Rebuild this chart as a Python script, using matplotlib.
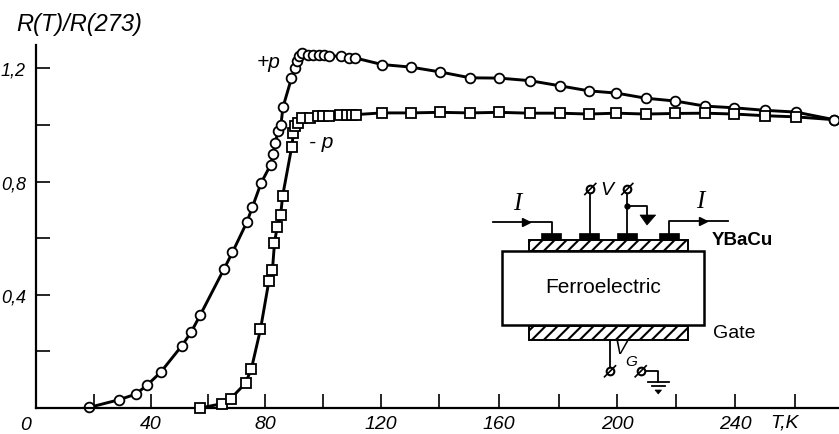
import matplotlib
matplotlib.use('Agg')
import matplotlib.pyplot as plt
from matplotlib.patches import Rectangle, Polygon

plt.rcParams['font.family'] = ['Liberation Sans', 'DejaVu Sans']

# +p curve (circles)
t_plus = [18.3, 28.5, 34.3, 38.2, 42.8, 50, 53.2, 56.4, 64.5, 67.4, 72.3, 74.2, 77.2, 80.5, 81.3, 82, 83, 84,
          84.7, 87.6, 88.8, 89.4, 90.3, 91.3, 93.2, 95.1, 97, 98.8, 100.6, 104.5, 107.3, 109.5, 118.6, 128.4,
          138.4, 148.8, 158.8, 169.2, 179.4, 189.4, 198.9, 208.9, 219, 229.2, 239.3, 249.8, 260.3, 273.4]
r_plus = [0.002, 0.029, 0.049, 0.081, 0.126, 0.219, 0.267, 0.329, 0.491, 0.55, 0.656, 0.709, 0.795, 0.86, 0.897,
          0.935, 0.978, 1.0, 1.063, 1.165, 1.201, 1.227, 1.245, 1.253, 1.247, 1.247, 1.247, 1.247, 1.245, 1.243,
          1.237, 1.237, 1.214, 1.205, 1.188, 1.167, 1.166, 1.157, 1.139, 1.121, 1.113, 1.095, 1.085, 1.067,
          1.061, 1.052, 1.046, 1.019]

# -p curve (squares)
t_minus = [56.4, 63.7, 66.8, 71.9, 73.9, 77, 79.9, 81.1, 81.8, 82.7, 83.9, 84.6, 87.7, 88.3, 88.8, 90, 91.1, 94,
           96.8, 98.5, 100.6, 104.2, 106.5, 108.3, 109.7, 118.6, 128.4, 138.4, 148.8, 158.8, 169.2, 179.4,
           189.4, 198.9, 208.9, 219, 229.2, 239.3, 249.8, 260.3]
r_minus = [0.0, 0.015, 0.033, 0.088, 0.139, 0.278, 0.45, 0.488, 0.583, 0.64, 0.682, 0.75, 0.923, 0.972, 0.998,
           1.007, 1.025, 1.024, 1.031, 1.031, 1.031, 1.036, 1.037, 1.037, 1.037, 1.043, 1.043, 1.045, 1.043,
           1.045, 1.042, 1.042, 1.039, 1.042, 1.039, 1.041, 1.042, 1.039, 1.033, 1.029]
t_end = [273.4]
r_end = [1.019]

x_ticks = [20, 39.5, 59, 78.6, 98.4, 118.3, 138.2, 158.7, 179.3, 199.1, 219.3, 239.5, 260]
x_labels = ['', '40', '', '80', '', '120', '', '160', '', '200', '', '240', '']
y_ticks = [0.2, 0.4, 0.6, 0.8, 1.0, 1.2]
y_labels = ['', '0,4', '', '0,8', '', '1,2']

W, H = 839, 435
fig = plt.figure(figsize=(W / 100, H / 100), dpi=100)

ax = fig.add_axes([35.6 / W, 26 / H, (W - 35.6) / W, 363 / H])
ax.set_xlim(0, 275.1)
ax.set_ylim(0, 1.283)
ax.spines['top'].set_visible(False)
ax.spines['right'].set_visible(False)
ax.spines['left'].set_linewidth(1.6)
ax.spines['bottom'].set_linewidth(1.6)
ax.set_xticks(x_ticks)
ax.set_xticklabels(x_labels, style='italic', fontsize=14)
ax.set_yticks(y_ticks)
ax.set_yticklabels(y_labels, style='italic', fontsize=13)
ax.tick_params(axis='both', direction='in', length=10, width=1.2)
ax.tick_params(axis='y', pad=7)
ax.tick_params(axis='x', pad=5)

mark = dict(mfc='white', mec='black', mew=1.3, clip_on=False)
ax.plot(t_plus, r_plus, color='black', lw=2.1, marker='o', ms=7, **mark)
ax.plot(t_minus + t_end, r_minus + r_end, color='black', lw=2.1, clip_on=False, zorder=3)
ax.plot(t_minus, r_minus, ls='none', marker='s', ms=6.6, zorder=3, **mark)
ax.plot(t_end, r_end, ls='none', marker='o', ms=7, zorder=4, **mark)

# everything else is placed in image pixels
ov = fig.add_axes([0, 0, 1, 1])
ov.set_xlim(0, W)
ov.set_ylim(H, 0)
ov.axis('off')
ov.patch.set_alpha(0)

ital = dict(style='italic', ha='center', va='center', color='black')
ov.text(79, 25, 'R(T)/R(273)', fontsize=17, **ital)
ov.text(26, 426, '0', fontsize=14, **ital)
ov.text(784, 423, 'T,K', fontsize=14, **ital)
ov.text(269, 62, '+p', fontsize=15, **ital)
ov.text(321, 143, '- p', fontsize=15, **ital)

# schematic
lw = 1.3
ov.add_patch(Rectangle((502.3, 251.7), 201.7, 74.3, fc='white', ec='black', lw=1.8))
for y0, h in [(240.7, 11), (326.7, 14)]:
    film = Rectangle((529, y0), 159, h, fc='white', ec='black', lw=1.4)
    ov.add_patch(film)
    for x0 in range(520, 700, 12):
        stripe, = ov.plot([x0, x0 + h], [y0 + h, y0], color='black', lw=1.5)
        stripe.set_clip_path(film)
for x0 in [541, 579, 617.3, 658.7]:
    ov.add_patch(Rectangle((x0, 234.3), 20, 6.4, fc='black', ec='black', lw=0.5))

ov.plot([493.3, 551.7, 551.7], [223.3, 223.3, 234.3], color='black', lw=lw)
ov.plot([669, 669, 728.3], [234.3, 222, 222], color='black', lw=lw)
ov.plot([526], [223.3], marker='>', ms=6, color='black')
ov.plot([702.7], [222], marker='>', ms=6, color='black')
ov.plot([590.3, 590.3], [234.3, 190], color='black', lw=lw)
ov.plot([627.3, 627.3], [234.3, 190], color='black', lw=lw)
ov.plot([627.3], [206.7], marker='o', ms=3.5, color='black')
ov.plot([627.3, 647, 647], [206.7, 206.7, 218], color='black', lw=lw)
ov.add_patch(Polygon([(640, 216), (655.7, 216), (647, 226)], fc='black', ec='black', lw=0.5))
ov.plot([610, 610], [340.7, 372], color='black', lw=lw)
ov.plot([640.7, 658.3, 658.3], [372.3, 372.3, 383], color='black', lw=lw)
ov.plot([648.3, 669], [383.3, 383.3], color='black', lw=lw)
ov.plot([651.7, 665], [387.3, 387.3], color='black', lw=lw)
ov.add_patch(Polygon([(655, 391), (661.5, 391), (658.3, 395)], fc='black', ec='black', lw=0.5))
for tx, ty in [(590.3, 190), (627.3, 190), (610, 372.3), (640.7, 372.3)]:
    ov.plot([tx], [ty], marker='o', ms=5.5, mfc='white', mec='black', mew=1.5, zorder=4)
    ov.plot([tx - 5.5, tx + 5.5], [ty + 5.5, ty - 5.5], color='black', lw=1.2, zorder=5)

ov.text(517.7, 204, 'I', family='Liberation Serif', style='italic', fontsize=18, ha='center', va='center')
ov.text(700, 202, 'I', family='Liberation Serif', style='italic', fontsize=18, ha='center', va='center')
ov.text(607.3, 190.5, 'V', fontsize=14, **ital)
ov.text(620.5, 350, 'V', fontsize=13, **ital)
ov.text(631, 362, 'G', fontsize=11, **ital)
ov.text(742, 241, 'YBaCu', fontsize=13.5, fontweight='bold', ha='center', va='center')
ov.text(603, 288, 'Ferroelectric', fontsize=15, ha='center', va='center')
ov.text(734.3, 334, 'Gate', fontsize=14, ha='center', va='center')

fig.savefig('out.png', dpi=100)
